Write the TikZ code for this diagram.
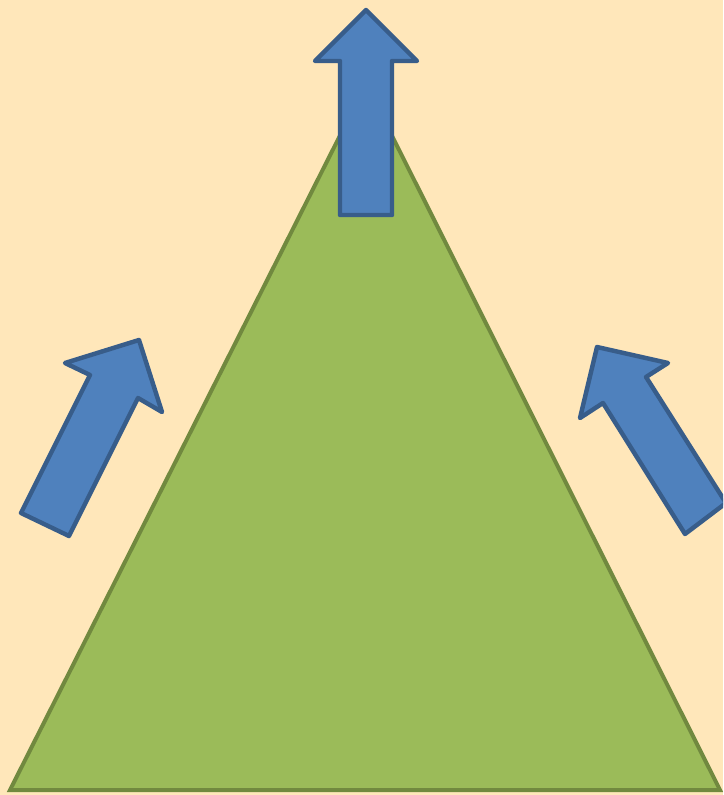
\documentclass[tikz,border=0pt]{standalone}
\usepackage{tikz}
\definecolor{Sand}{HTML}{FFE7BA}
\definecolor{Leaf}{HTML}{9BBB59}
\definecolor{Moss}{HTML}{71893F}
\definecolor{Sky}{HTML}{4F81BD}
\definecolor{Navy}{HTML}{385D8A}

\begin{document}
\begin{tikzpicture}[
    x=0.03cm,y=-0.03cm,
    hill/.style={fill=Leaf,draw=Moss,line width=3.4pt,line join=miter},
    push/.style={fill=Sky,draw=Navy,line width=3.8pt,line join=round}
  ]
    \fill[Sand] (0,0) rectangle (723,795);
    \useasboundingbox (0,0) rectangle (723,795);
    \clip (0,0) rectangle (723,795);
    % the peak
    \draw[hill] (10,790) -- (366,84) -- (720,790) -- cycle;
    % upward arrow on top
    \draw[push] (366,10) -- (417,61) -- (392,61) -- (392,215) -- (340,215) -- (340,61) -- (315,61) -- cycle;
    % arrow from the left
    \draw[push] (139,340) -- (162,412) -- (138,398) -- (69,536) -- (21,513) -- (90,375) -- (65,363) -- cycle;
    % arrow from the right
    \draw[push] (597,347) -- (668,363) -- (646,377) -- (726,503) -- (685,534) -- (603,403) -- (580,418) -- cycle;
  \end{tikzpicture}
\end{document}
